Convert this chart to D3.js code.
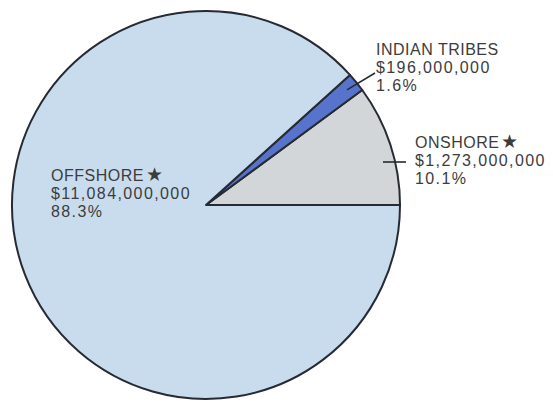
<!DOCTYPE html>
<html>
<head>
<meta charset="utf-8">
<script src="https://cdn.jsdelivr.net/npm/d3@7"></script>
<style>
  html, body { margin: 0; padding: 0; background: #ffffff; }
  svg { display: block; }
  text { font-family: "Liberation Sans", Arial, sans-serif; fill: #3c3c3c; }
</style>
</head>
<body>
<svg id="chart" width="553" height="407"></svg>
<script>
// Revenue sources, in dollars, with their shares of the total
const sources = ["ONSHORE", "INDIAN TRIBES", "OFFSHORE"];
const amounts = [1273000000, 196000000, 11084000000];
const shares = [10.1, 1.6, 88.3];
const starred = [true, false, true];
const colors = ["#d3d6d8", "#5873cb", "#c9dcee"];

const svg = d3.select("#chart");
const cx = 206, cy = 205, r = 194;

// Slices run counter-clockwise from the 3 o'clock position
const pie = d3.pie()
  .sort(null)
  .value((d, i) => shares[i])
  .startAngle(Math.PI / 2)
  .endAngle(Math.PI / 2 - 2 * Math.PI);

const arc = d3.arc().innerRadius(0).outerRadius(r);
const slices = pie(sources);

const g = svg.append("g").attr("transform", `translate(${cx},${cy})`);
g.selectAll("path")
  .data(slices)
  .join("path")
  .attr("d", arc)
  .attr("fill", (d, i) => colors[i])
  .attr("stroke", "#262a33")
  .attr("stroke-width", 2)
  .attr("stroke-linejoin", "round");

const fmt = d3.format("$,");
const labelPos = [
  { x: 415, y: 148 },
  { x: 376, y: 55 },
  { x: 51, y: 181 }
];

sources.forEach((name, i) => {
  const x = labelPos[i].x;
  const t = svg.append("text")
    .attr("x", x)
    .attr("y", labelPos[i].y)
    .attr("font-size", 16);
  const head = t.append("tspan").attr("x", x).attr("letter-spacing", 0.5).text(name);
  if (starred[i]) head.append("tspan").attr("dx", 2).attr("font-size", 19).text("\u2605");
  t.append("tspan").attr("x", x).attr("dy", 18).attr("letter-spacing", 1.4).text(fmt(amounts[i]));
  t.append("tspan").attr("x", x).attr("dy", 18).attr("letter-spacing", 1.4).text(d3.format(".1f")(shares[i]) + "%");
});

// Leader line from the Indian tribes slice to its label
const mid = (slices[1].startAngle + slices[1].endAngle) / 2;
const inner = r - 12;
svg.append("line")
  .attr("x1", cx + inner * Math.sin(mid)).attr("y1", cy - inner * Math.cos(mid))
  .attr("x2", 375).attr("y2", 73)
  .attr("stroke", "#262a33").attr("stroke-width", 1.6);

// Onshore: short horizontal tick across the rim
svg.append("line")
  .attr("x1", 383).attr("y1", 162)
  .attr("x2", 406).attr("y2", 162)
  .attr("stroke", "#262a33").attr("stroke-width", 1.6);
</script>
</body>
</html>
